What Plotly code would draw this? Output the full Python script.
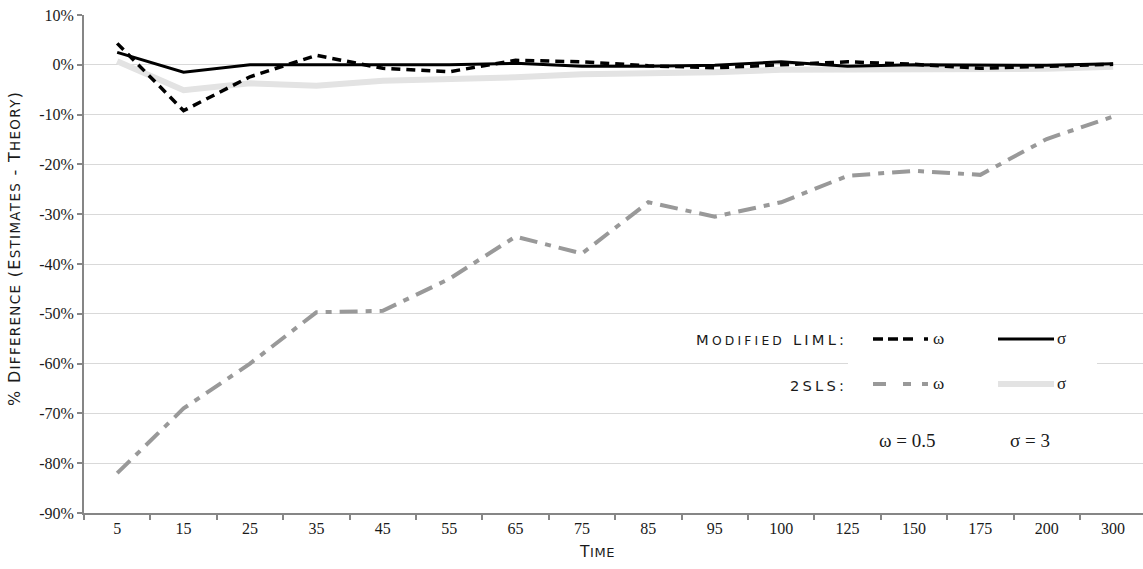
import plotly.graph_objects as go

# ---------------- data ----------------
time_labels = ["5", "15", "25", "35", "45", "55", "65", "75", "85", "95",
               "100", "125", "150", "175", "200", "300"]

liml_omega = [4.3, -9.2, -2.4, 1.9, -0.7, -1.4, 0.9, 0.6, -0.2, -0.6,
              0.0, 0.6, 0.1, -0.7, -0.3, 0.1]
liml_sigma = [2.5, -1.5, 0.0, 0.0, 0.1, 0.0, 0.3, -0.3, -0.3, -0.1,
              0.6, -0.3, 0.0, -0.1, -0.1, 0.2]
tsls_omega = [-82.0, -69.0, -60.0, -49.7, -49.4, -43.0, -34.5, -37.9, -27.6, -30.5,
              -27.6, -22.3, -21.3, -22.1, -14.9, -10.4]
tsls_sigma = [0.7, -5.1, -3.7, -4.2, -3.2, -3.0, -2.5, -1.9, -1.8, -1.5,
              -1.0, -1.0, -0.8, -1.0, -0.8, -0.4]

y_tick_vals = [10, 0, -10, -20, -30, -40, -50, -60, -70, -80, -90]
y_tick_text = ["10%", "0%", "-10%", "-20%", "-30%", "-40%", "-50%",
               "-60%", "-70%", "-80%", "-90%"]

# ---------------- layout constants ----------------
W, H = 1143, 569
ML, MR, MT, MB = 84, 0, 15, 56
PW = W - ML - MR
PH = H - MT - MB


def px(x):
    return (x - ML) / PW


def py(y):
    return (H - MB - y) / PH


def small_caps(text, big, small, spacing):
    """Build small-caps text: capitals/non-letters at `big`, lowercase shown as capitals at `small`."""
    out = []
    for ch in text:
        if ch.islower():
            out.append(f'<span style="font-size:{small}px">{ch.upper()}</span>')
        else:
            out.append(f'<span style="font-size:{big}px">{ch}</span>')
    return f'<span style="letter-spacing:{spacing}px">' + "".join(out) + "</span>"


SERIF = "Liberation Serif"
SANS = "DejaVu Sans"

fig = go.Figure()
fig.add_trace(go.Scatter(x=time_labels, y=tsls_sigma, mode="lines",
                         line=dict(color="#e3e3e3", width=6), name="2SLS σ"))
fig.add_trace(go.Scatter(x=time_labels, y=tsls_omega, mode="lines",
                         line=dict(color="#999999", width=4, dash="18px,8px,6px,8px"),
                         name="2SLS ω"))
fig.add_trace(go.Scatter(x=time_labels, y=liml_omega, mode="lines",
                         line=dict(color="#000000", width=3.5, dash="9px,6px"),
                         name="Modified LIML ω"))
fig.add_trace(go.Scatter(x=time_labels, y=liml_sigma, mode="lines",
                         line=dict(color="#000000", width=3),
                         name="Modified LIML σ"))

shapes = [
    # white legend box
    dict(type="rect", xref="paper", yref="paper", x0=px(848), x1=px(1097),
         y0=py(400), y1=py(326), fillcolor="white", line=dict(width=0), layer="above"),
    # legend samples
    dict(type="line", xref="paper", yref="paper", x0=px(873), x1=px(930), y0=py(339), y1=py(339),
         line=dict(color="black", width=3.5, dash="10px,5px,10px,5px,10px,11px,4px,20px")),
    dict(type="line", xref="paper", yref="paper", x0=px(998), x1=px(1054), y0=py(339), y1=py(339),
         line=dict(color="black", width=3)),
    dict(type="line", xref="paper", yref="paper", x0=px(873), x1=px(930), y0=py(384), y1=py(384),
         line=dict(color="#999999", width=4, dash="13px,17px,8px,11px,6px,20px")),
    dict(type="line", xref="paper", yref="paper", x0=px(998), x1=px(1054), y0=py(384), y1=py(384),
         line=dict(color="#e3e3e3", width=6)),
]

TXT = "#1a1a1a"


def ann(text, x, y, family, size, xanchor="center", angle=0):
    return dict(text=text, xref="paper", yref="paper", x=px(x), y=py(y),
                xanchor=xanchor, yanchor="middle", textangle=angle, showarrow=False,
                font=dict(family=family, size=size, color=TXT))


annotations = [
    ann(small_caps("% Difference (Estimates - Theory)", 16, 13.5, 1.3), 15, 249, SANS, 16, angle=-90),
    ann(small_caps("Time", 15.5, 13, 0.6), 597, 552, SANS, 15),
    ann(small_caps("Modified LIML:", 14.7, 12.3, 3.2), 849, 339, SANS, 14.7, xanchor="right"),
    ann(small_caps("2SLS:", 14.7, 12.3, 3.2), 849, 385, SANS, 14.7, xanchor="right"),
    ann("ω", 931, 338, SERIF, 17, xanchor="left"),
    ann("σ", 1055, 338, SERIF, 17, xanchor="left"),
    ann("ω", 931, 383, SERIF, 17, xanchor="left"),
    ann("σ", 1055, 383, SERIF, 17, xanchor="left"),
    ann("ω = 0.5", 907, 440, SERIF, 19),
    ann("σ = 3", 1030, 440, SERIF, 19),
]

fig.update_layout(
    width=W, height=H,
    margin=dict(l=ML, r=MR, t=MT, b=MB, pad=0),
    paper_bgcolor="white", plot_bgcolor="white",
    showlegend=False,
    font=dict(family=SERIF, size=16, color=TXT),
    shapes=shapes, annotations=annotations,
    xaxis=dict(type="category", range=[-0.5, 15.45], showgrid=False,
               showline=True, linecolor="#868686", linewidth=2,
               ticks="outside", tickson="boundaries", ticklen=5, tickwidth=1.5,
               tickcolor="#868686", tickfont=dict(family=SERIF, size=16, color=TXT),
               zeroline=False),
    yaxis=dict(range=[-90, 10], tickvals=y_tick_vals, ticktext=y_tick_text,
               showgrid=True, gridcolor="#d9d9d9", gridwidth=1.2,
               showline=True, linecolor="#868686", linewidth=2,
               ticks="outside", ticklen=5, tickwidth=1.5, tickcolor="#868686",
               tickfont=dict(family=SERIF, size=16, color=TXT),
               zeroline=False),
)

fig.write_html("out.html")
